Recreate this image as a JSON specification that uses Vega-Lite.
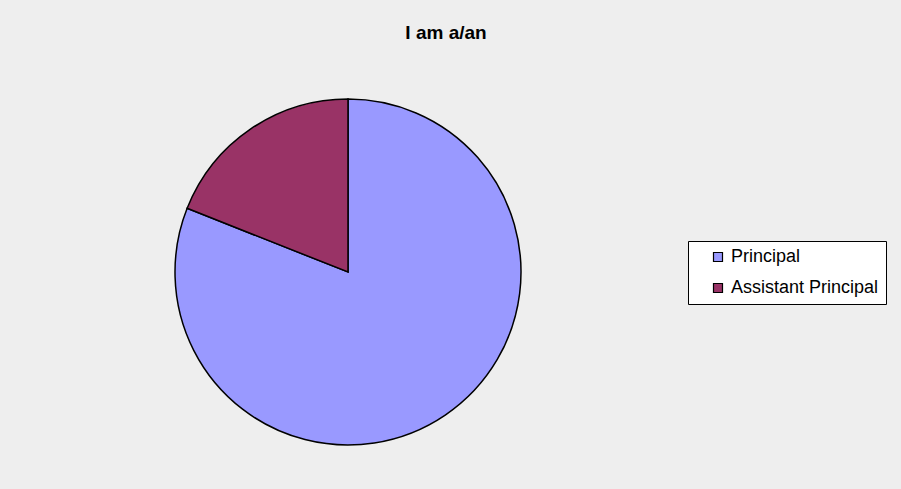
{
  "$schema": "https://vega.github.io/schema/vega-lite/v6.json",
  "width": 696,
  "height": 434,
  "autosize": {"type": "none"},
  "padding": {"left": 0, "top": 55, "right": 205, "bottom": 0},
  "background": "#EEEEEE",
  "title": {
    "text": "I am a/an",
    "font": "Liberation Sans",
    "fontSize": 19,
    "fontWeight": "bold",
    "color": "#000000",
    "anchor": "middle",
    "offset": 12,
    "dx": 98
  },
  "data": {
    "values": [
      {"role": "Principal", "percent": 81},
      {"role": "Assistant Principal", "percent": 19}
    ]
  },
  "mark": {"type": "arc", "radius": 173, "stroke": "#000000", "strokeWidth": 1.5},
  "encoding": {
    "theta": {"field": "percent", "type": "quantitative", "stack": true},
    "order": {"field": "percent", "type": "quantitative", "sort": "descending"},
    "color": {
      "field": "role",
      "type": "nominal",
      "sort": ["Principal", "Assistant Principal"],
      "scale": {"domain": ["Principal", "Assistant Principal"], "range": ["#9999FF", "#993366"]},
      "legend": {
        "title": null,
        "orient": "none",
        "legendX": 688,
        "legendY": 186,
        "fillColor": "#FFFFFF",
        "strokeColor": "#000000",
        "padding": 7,
        "symbolOffset": 14,
        "symbolType": "square",
        "symbolSize": 81,
        "symbolStrokeColor": "#000000",
        "symbolStrokeWidth": 1.2,
        "labelFont": "Liberation Sans",
        "labelFontSize": 18,
        "labelColor": "#000000",
        "labelOffset": 4,
        "rowPadding": 13,
        "labelLimit": 300
      }
    }
  },
  "config": {"view": {"stroke": null}}
}
